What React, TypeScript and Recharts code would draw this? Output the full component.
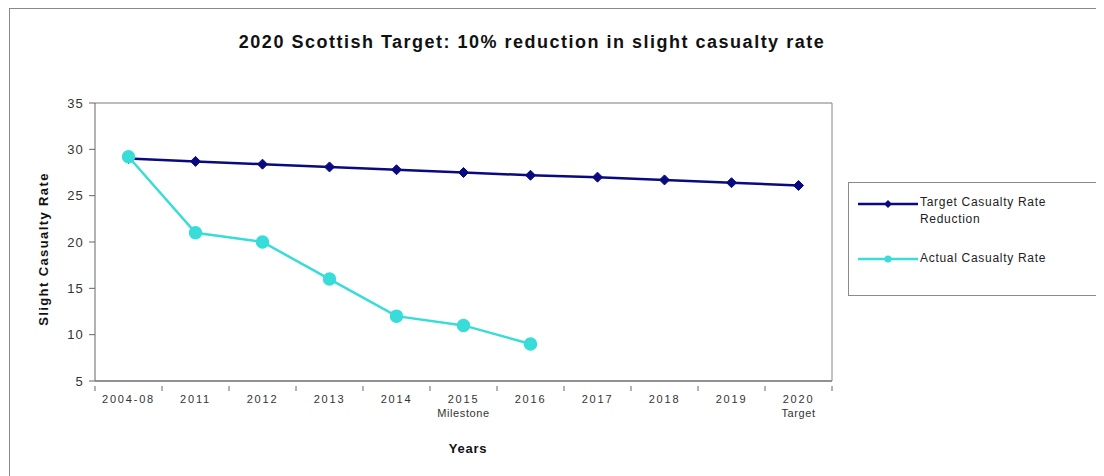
import React from "react";
import {
  LineChart,
  Line,
  XAxis,
  YAxis,
  CartesianGrid,
  Legend,
} from "recharts";

// categories along the x axis (second line of the label, if any)
const years = ["2004-08", "2011", "2012", "2013", "2014", "2015", "2016", "2017", "2018", "2019", "2020"];
const subLabels = ["", "", "", "", "", "Milestone", "", "", "", "", "Target"];

// series values
const targetRate = [29.0, 28.7, 28.4, 28.1, 27.8, 27.5, 27.2, 27.0, 26.7, 26.4, 26.1];
const actualRate: (number | null)[] = [29.2, 21.0, 20.0, 16.0, 12.0, 11.0, 9.0, null, null, null, null];

const yTicks = [5, 10, 15, 20, 25, 30, 35];

const TARGET_NAME = "Target Casualty Rate Reduction";
const ACTUAL_NAME = "Actual Casualty Rate";
const NAVY = "#0a0a80";
const CYAN = "#38dcd8";
const FONT = "'Liberation Sans', Arial, sans-serif";

const data = years.map((year, i) => ({
  year,
  sub: subLabels[i],
  target: targetRate[i],
  actual: actualRate[i],
}));

function YearTick(props: any) {
  const { x, y, payload, index, visibleTicksCount } = props;
  const half = payload.offset || 0;
  const sub = subLabels[index];
  const last = index === visibleTicksCount - 1;
  return (
    <g>
      <line x1={x - half} y1={y - 3} x2={x - half} y2={y + 2} stroke="#666" />
      {last && <line x1={x + half} y1={y - 3} x2={x + half} y2={y + 2} stroke="#666" />}
      <text
        x={x}
        y={y + 14}
        textAnchor="middle"
        fill="#333"
        fontSize={11}
        letterSpacing={1.8}
        fontFamily={FONT}
      >
        {payload.value}
      </text>
      {sub && (
        <text
          x={x}
          y={y + 28}
          textAnchor="middle"
          fill="#333"
          fontSize={11}
          letterSpacing={0.6}
          fontFamily={FONT}
        >
          {sub}
        </text>
      )}
    </g>
  );
}

function Diamond(props: any) {
  const { cx, cy } = props;
  if (cx == null || cy == null) return <g />;
  const r = 5;
  return (
    <polygon
      points={`${cx},${cy - r} ${cx + r},${cy} ${cx},${cy + r} ${cx - r},${cy}`}
      fill={NAVY}
      stroke={NAVY}
    />
  );
}

function LegendBox() {
  const swatch = (color: string, diamond: boolean) => (
    <svg width={62} height={10} style={{ flex: "none" }}>
      <line x1={0} y1={5} x2={60} y2={5} stroke={color} strokeWidth={2.5} />
      {diamond ? (
        <polygon points="30,1 34,5 30,9 26,5" fill={color} />
      ) : (
        <circle cx={30} cy={5} r={3.5} fill={color} />
      )}
    </svg>
  );
  return (
    <div
      style={{
        width: 252,
        height: 114,
        border: "1px solid #8a8a8a",
        fontFamily: FONT,
        fontSize: 12,
        color: "#222",
        letterSpacing: 0.7,
        boxSizing: "border-box",
        paddingLeft: 9,
        paddingTop: 11,
      }}
    >
      <div style={{ display: "flex", alignItems: "flex-start", lineHeight: "17px" }}>
        <div style={{ marginTop: 3 }}>{swatch(NAVY, true)}</div>
        <div style={{ width: 160 }}>
          Target Casualty Rate
          <br />
          Reduction
        </div>
      </div>
      <div style={{ display: "flex", alignItems: "center", lineHeight: "17px", marginTop: 22 }}>
        {swatch(CYAN, false)}
        <div>{ACTUAL_NAME}</div>
      </div>
    </div>
  );
}

export default function App() {
  return (
    <div style={{ position: "relative", width: 1096, height: 468, fontFamily: FONT }}>
      <div
        style={{
          position: "absolute",
          left: 1,
          top: 0,
          width: 1200,
          height: 600,
          borderTop: "1px solid #888",
          borderLeft: "1px solid #888",
          pointerEvents: "none",
        }}
      />
      <div
        style={{
          position: "absolute",
          left: 0,
          width: 1048,
          top: 24,
          textAlign: "center",
          fontWeight: "bold",
          fontSize: 18,
          letterSpacing: 1.5,
          color: "#111",
        }}
      >
        2020 Scottish Target: 10% reduction in slight casualty rate
      </div>
      <div
        style={{
          position: "absolute",
          left: 35,
          top: 241,
          transform: "translate(-50%, -50%) rotate(-90deg)",
          whiteSpace: "nowrap",
          fontWeight: "bold",
          fontSize: 13,
          letterSpacing: 1.4,
          color: "#111",
        }}
      >
        Slight Casualty Rate
      </div>
      <div
        style={{
          position: "absolute",
          left: 460,
          top: 440,
          transform: "translate(-50%, -50%)",
          fontWeight: "bold",
          fontSize: 13,
          letterSpacing: 0.8,
          color: "#111",
        }}
      >
        Years
      </div>
      <div style={{ position: "absolute", left: 0, top: 0 }}>
        <LineChart
          width={1096}
          height={468}
          data={data}
          margin={{ top: 95, right: 271, bottom: 55, left: 0 }}
        >
          <CartesianGrid vertical={false} stroke="#7a7a7a" strokeWidth={1} />
          <XAxis
            dataKey="year"
            scale="band"
            height={40}
            tick={<YearTick />}
            tickLine={false}
            interval={0}
            axisLine={{ stroke: "#666" }}
          />
          <YAxis
            yAxisId="left"
            width={87}
            domain={[5, 35]}
            ticks={yTicks}
            interval={0}
            tick={{ fill: "#333", fontSize: 13, fontFamily: FONT, letterSpacing: 1.2 }}
            tickLine={{ stroke: "#666" }}
            tickSize={6}
            tickMargin={5}
            axisLine={{ stroke: "#666" }}
          />
          <YAxis
            yAxisId="right"
            orientation="right"
            width={1}
            domain={[5, 35]}
            tick={false}
            tickLine={false}
            axisLine={{ stroke: "#888" }}
          />
          <Legend
            layout="vertical"
            align="center"
            verticalAlign="middle"
            wrapperStyle={{ position: "absolute", left: 840, top: 174, width: 252 }}
            content={() => <LegendBox />}
          />
          <Line
            yAxisId="left"
            name={TARGET_NAME}
            dataKey="target"
            stroke={NAVY}
            strokeWidth={2.5}
            dot={<Diamond />}
            activeDot={false}
            isAnimationActive={false}
          />
          <Line
            yAxisId="left"
            name={ACTUAL_NAME}
            dataKey="actual"
            stroke={CYAN}
            strokeWidth={2.5}
            dot={{ r: 5.5, fill: CYAN, stroke: CYAN }}
            activeDot={false}
            connectNulls={false}
            isAnimationActive={false}
          />
        </LineChart>
      </div>
    </div>
  );
}
